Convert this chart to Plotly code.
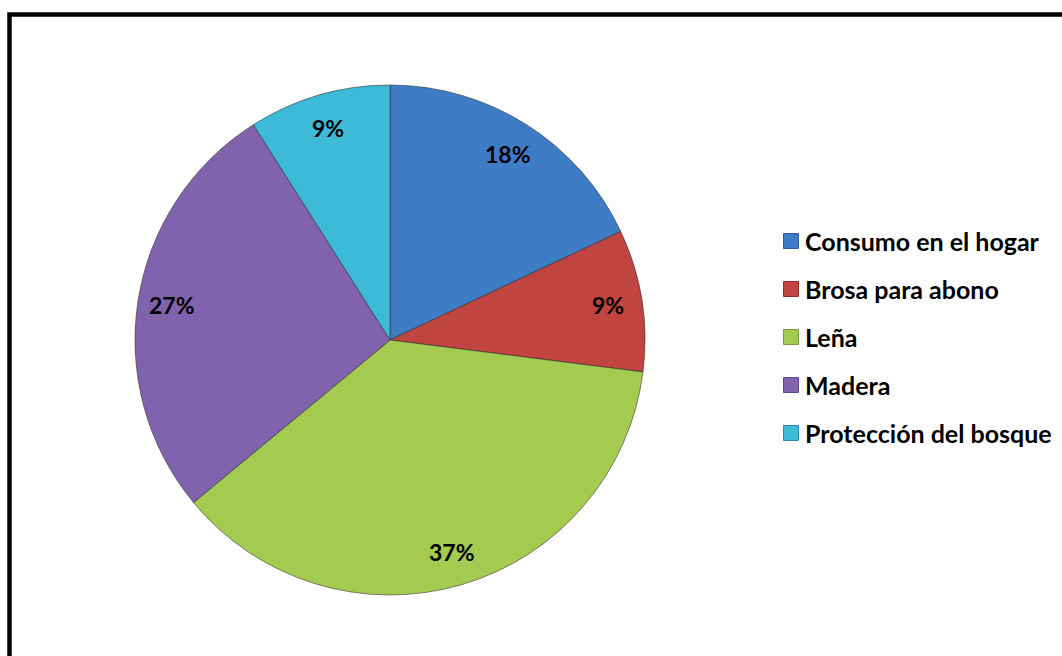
import math
import plotly.graph_objects as go

categories = ["Consumo en el hogar", "Brosa para abono", "Leña", "Madera", "Protección del bosque"]
values = [18, 9, 37, 27, 9]
colors = ["#3F7CC6", "#C0443F", "#A3CB50", "#8063AC", "#3DBAD8"]
edge_colors = ["#2F5E98", "#8E2F2C", "#7A9A3A", "#5E4883", "#2C8BA3"]

W, H = 1062, 656
FONT = "Lato"

# pie geometry (pixels)
cx, cy, R = 390, 340, 255

fig = go.Figure()
fig.add_trace(go.Pie(
    labels=categories,
    values=values,
    sort=False,
    direction="clockwise",
    rotation=0,
    textinfo="none",
    hoverinfo="label+percent",
    marker=dict(colors=colors, line=dict(color="rgba(40,40,40,0.55)", width=1)),
    domain=dict(x=[(cx - R) / W, (cx + R) / W], y=[1 - (cy + R) / H, 1 - (cy - R) / H]),
    showlegend=False,
))

annotations = []
total = sum(values)
cum = 0
for v in values:
    mid = (cum + v / 2) / total * 2 * math.pi
    cum += v
    rr = 0.865 * R
    px = cx + rr * math.sin(mid)
    py = cy - rr * math.cos(mid)
    annotations.append(dict(
        x=px / W, y=1 - py / H, xref="paper", yref="paper",
        text=f"<b>{round(v / total * 100)}%</b>", showarrow=False,
        font=dict(family=FONT, size=23, color="black"),
        xanchor="center", yanchor="middle",
    ))

shapes = []
# chart border (extends past right and bottom edges)
shapes.append(dict(type="rect", xref="paper", yref="paper",
                   x0=9.5 / W, x1=1.2, y0=-0.2, y1=1 - 14.5 / H,
                   line=dict(color="black", width=4.5), fillcolor="rgba(0,0,0,0)"))

# legend
leg_x, leg_y0, leg_dy, sq = 791, 241, 48, 15
for i, (lab, col, ec) in enumerate(zip(categories, colors, edge_colors)):
    yc = leg_y0 + i * leg_dy
    shapes.append(dict(type="rect", xref="paper", yref="paper",
                       x0=(leg_x - sq / 2) / W, x1=(leg_x + sq / 2) / W,
                       y0=1 - (yc + sq / 2) / H, y1=1 - (yc - sq / 2) / H,
                       fillcolor=col, line=dict(color=ec, width=1)))
    annotations.append(dict(
        x=(leg_x + 12) / W, y=1 - yc / H, xref="paper", yref="paper",
        text=f"<b>{lab}</b>", showarrow=False,
        font=dict(family=FONT, size=25, color="black"),
        xanchor="left", yanchor="middle",
    ))

fig.update_layout(
    width=W, height=H,
    margin=dict(l=0, r=0, t=0, b=0),
    paper_bgcolor="white", plot_bgcolor="white",
    annotations=annotations, shapes=shapes,
)

fig.write_html("out.html", config={"displayModeBar": False},
               post_script="document.body.style.margin='0px';document.body.style.overflow='hidden';")
